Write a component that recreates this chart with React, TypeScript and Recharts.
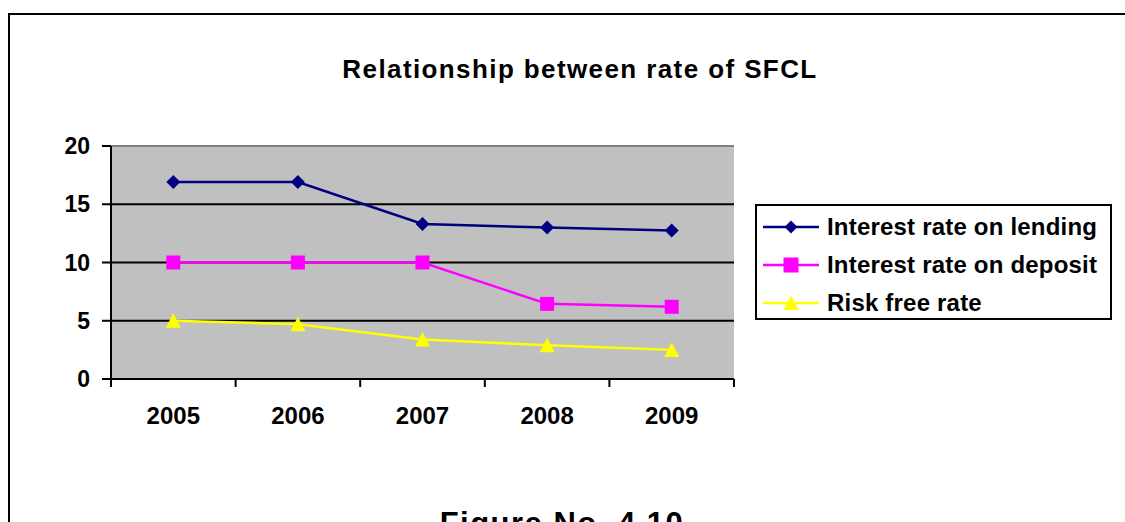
import { LineChart, Line, XAxis, YAxis, CartesianGrid, ReferenceLine, Legend } from "recharts"

const years = ["2005", "2006", "2007", "2008", "2009"]
const lendingRate = [16.9, 16.9, 13.3, 13.0, 12.75]
const depositRate = [10, 10, 10, 6.45, 6.2]
const riskFreeRate = [5, 4.7, 3.4, 2.9, 2.5]
const yTicks = [0, 5, 10, 15, 20]

const series = [
  { key: "lending", name: "Interest rate on lending", color: "#000080", marker: "diamond" },
  { key: "deposit", name: "Interest rate on deposit", color: "#FF00FF", marker: "square" },
  { key: "riskFree", name: "Risk free rate", color: "#FFFF00", marker: "triangle" },
]

const data = years.map((year, i) => ({
  year,
  lending: lendingRate[i],
  deposit: depositRate[i],
  riskFree: riskFreeRate[i],
}))

const W = 1125
const H = 522
const FONT = "'Liberation Sans', Arial, sans-serif"
const margin = { top: 146, right: 391, bottom: 93, left: 51 }
const Y_AXIS_W = 60
const X_AXIS_H = 50
const X_TICK_SIZE = 8
const X_TICK_MARGIN = 20
const plotWidth = W - margin.left - Y_AXIS_W - margin.right

function markerPath(type: string, cx: number, cy: number, s: number) {
  const h = s / 2
  if (type === "diamond") return `M${cx},${cy - h} L${cx + h},${cy} L${cx},${cy + h} L${cx - h},${cy} Z`
  if (type === "square") return `M${cx - h},${cy - h} h${s} v${s} h${-s} Z`
  return `M${cx},${cy - h} L${cx + h},${cy + h - 0.5} L${cx - h},${cy + h - 0.5} Z`
}

const makeDot = (type: string, color: string, size: number) => (props: any) => {
  const { cx, cy, index } = props
  if (cx == null || cy == null) return <g key={`d-${index}`} />
  return <path key={`d-${type}-${index}`} d={markerPath(type, cx, cy, size)} fill={color} stroke="none" />
}

const sizes: Record<string, number> = { diamond: 14, square: 14, triangle: 15 }

function YearTick(props: any) {
  const { x, y, payload, index } = props
  const bw = plotWidth / years.length
  const axisY = y - X_TICK_SIZE - X_TICK_MARGIN
  return (
    <g>
      <line x1={x - bw / 2} x2={x - bw / 2} y1={axisY} y2={axisY + X_TICK_SIZE} stroke="#000" strokeWidth={2} />
      {index === years.length - 1 && (
        <line x1={x + bw / 2} x2={x + bw / 2} y1={axisY} y2={axisY + X_TICK_SIZE} stroke="#000" strokeWidth={2} />
      )}
      <text x={x} y={y} dy="0.71em" textAnchor="middle" fontFamily={FONT} fontWeight="bold" fontSize={24} fill="#000">
        {payload.value}
      </text>
    </g>
  )
}

function LegendBox() {
  return (
    <div
      style={{
        boxSizing: "border-box",
        width: "100%",
        height: "100%",
        border: "2px solid #000",
        background: "#fff",
        paddingTop: 2,
      }}
    >
      {series.map((s) => (
        <div key={s.key} style={{ display: "flex", alignItems: "center", height: 38 }}>
          <svg width={66} height={20} style={{ marginLeft: 4 }}>
            <line x1={2} x2={58} y1={10} y2={10} stroke={s.color} strokeWidth={2.5} />
            <path d={markerPath(s.marker, 30, 10, s.marker === "diamond" ? 13 : 15)} fill={s.color} />
          </svg>
          <span style={{ fontFamily: FONT, fontWeight: "bold", fontSize: 24, letterSpacing: 0.2, color: "#000", whiteSpace: "nowrap" }}>
            {s.name}
          </span>
        </div>
      ))}
    </div>
  )
}

export default function App() {
  return (
    <div style={{ position: "absolute", left: 0, top: 0, width: W, height: H, background: "#fff", overflow: "hidden" }}>
      <svg width={W} height={H} style={{ position: "absolute", left: 0, top: 0 }}>
        <rect x={9} y={14} width={1200} height={600} fill="none" stroke="#000" strokeWidth={2} />
        <text x={580} y={78} textAnchor="middle" fontFamily={FONT} fontWeight="bold" fontSize={26} letterSpacing={1.4} fill="#000">
          Relationship between rate of SFCL
        </text>
        <text x={562} y={534} textAnchor="middle" fontFamily={FONT} fontWeight="bold" fontSize={31} letterSpacing={1.5} fill="#000">
          Figure No. 4.10
        </text>
      </svg>
      <div style={{ position: "absolute", left: 0, top: 0 }}>
        <LineChart width={W} height={H} data={data} margin={margin}>
          <CartesianGrid vertical={false} stroke="#000" strokeWidth={2} fill="#c0c0c0" fillOpacity={1} />
          <XAxis
            dataKey="year"
            scale="band"
            height={X_AXIS_H}
            axisLine={{ stroke: "#000", strokeWidth: 2 }}
            tickLine={false}
            tickSize={X_TICK_SIZE}
            tickMargin={X_TICK_MARGIN}
            tick={<YearTick />}
            interval={0}
          />
          <YAxis
            width={Y_AXIS_W}
            domain={[0, 20]}
            ticks={yTicks}
            allowDataOverflow
            axisLine={{ stroke: "#000", strokeWidth: 2 }}
            tickLine={{ stroke: "#000", strokeWidth: 2 }}
            tickSize={9}
            tickMargin={12}
            tick={{ fontFamily: FONT, fontWeight: "bold", fontSize: 23, fill: "#000" }}
          />
          <YAxis
            yAxisId="r"
            orientation="right"
            width={0}
            domain={[0, 20]}
            tick={false}
            tickLine={false}
            axisLine={{ stroke: "#808080", strokeWidth: 2 }}
          />
          <ReferenceLine y={20} stroke="#808080" strokeWidth={2} />
          {series.map((s) => (
            <Line
              key={s.key}
              type="linear"
              dataKey={s.key}
              name={s.name}
              stroke={s.color}
              strokeWidth={2.5}
              dot={makeDot(s.marker, s.color, sizes[s.marker])}
              activeDot={false}
              isAnimationActive={false}
            />
          ))}
          <Legend
            layout="horizontal"
            verticalAlign="middle"
            align="center"
            content={() => <LegendBox />}
            wrapperStyle={{ left: 755, top: 204, width: 357, height: 116, right: "auto", bottom: "auto" }}
          />
        </LineChart>
      </div>
    </div>
  )
}
